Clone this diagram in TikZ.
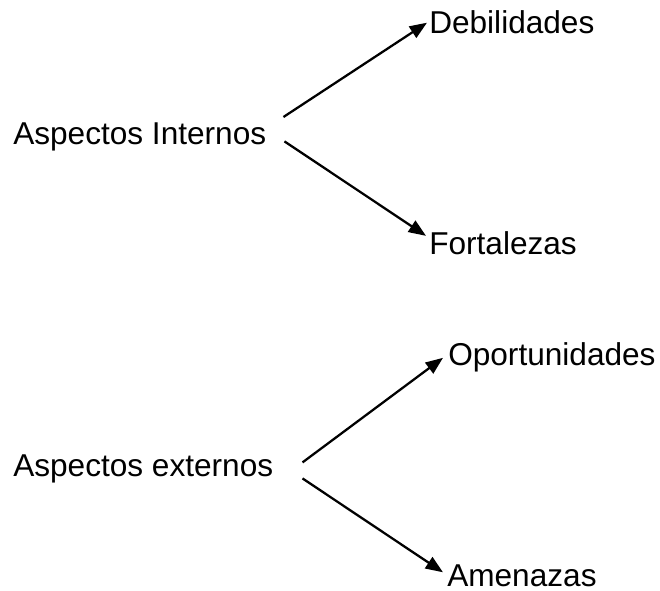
\documentclass[tikz,border=0pt]{standalone}
\usepackage{fontspec}
\setmainfont{Liberation Sans}
\usetikzlibrary{arrows.meta,calc}
\tikzset{
  flecha/.style={line width=1.7pt,-{Triangle[length=13pt,width=10pt]}},
  txt/.style={anchor=base west,inner sep=0pt,font=\fontsize{23.7pt}{28pt}\selectfont}
}
\begin{document}
\begin{tikzpicture}[x=0.75pt,y=-0.75pt]
\useasboundingbox (0,0) rectangle (660,591);
\node[txt] at (13,145) (asp1) {Aspectos Internos};
\node[txt] at (429,34) (deb) {Debilidades};
\node[txt] at (429,255) (fort) {Fortalezas};
\draw[flecha] ($(asp1.north east)+(17,-6)$) -- ($(deb.west)+(-2,0)$);
\draw[flecha] ($(asp1.east)+(18,4)$) -- ($(fort.north west)+(-3,4)$);

\node[txt] at (13,476) (asp2) {Aspectos externos};
\node[txt] at (448,365) (oport) {Oportunidades};
\node[txt] at (447,586) (amen) {Amenazas};
\draw[flecha] ($(asp2.east)+(29,-6)$) -- ($(oport.west)+(-5,1)$);
\draw[flecha] ($(asp2.east)+(29,10)$) -- ($(amen.west)+(-4,-3)$);
\end{tikzpicture}
\end{document}
